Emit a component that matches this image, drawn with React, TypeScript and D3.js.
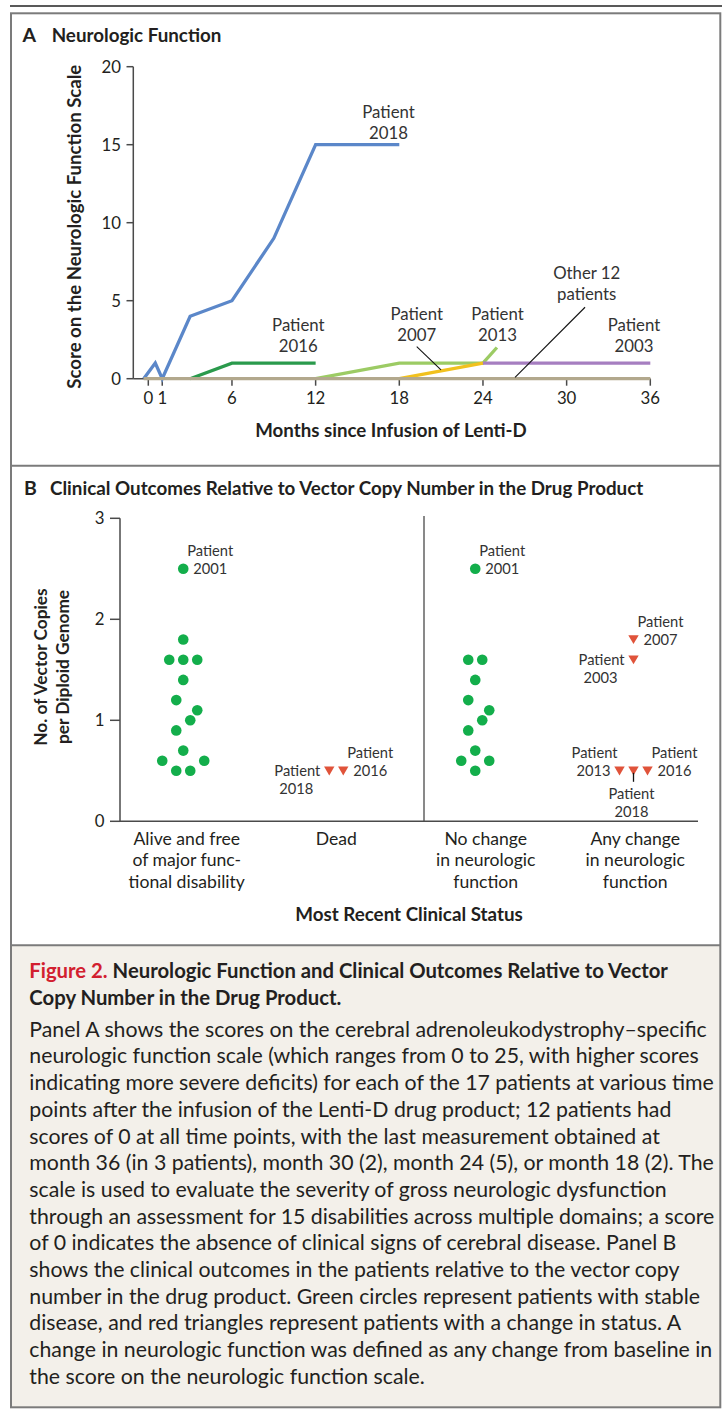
import React from 'react';
import * as d3 from 'd3';

// ---- Panel A data: neurologic function score by month ----
const MONTHS_2018 = [-0.33, 0.5, 1, 3, 6, 9, 12, 18];
const SCORE_2018 = [0, 1, 0, 4, 5, 9, 15, 15];
const MONTHS_2016 = [3, 6, 12];
const SCORE_2016 = [0, 1, 1];
const MONTHS_2013 = [12, 18, 24, 25];
const SCORE_2013 = [0, 1, 1, 2];
const MONTHS_2007 = [18, 24];
const SCORE_2007 = [0, 1];
const MONTHS_2003 = [24, 36];
const SCORE_2003 = [1, 1];
const MONTHS_OTHERS = [-0.33, 36];
const SCORE_OTHERS = [0, 0];

const X_TICKS_A = [0, 1, 6, 12, 18, 24, 30, 36];
const Y_TICKS_A = [0, 5, 10, 15, 20];

// ---- Panel B data: vector copy number per status ----
const CATEGORIES = ['alive', 'dead', 'nochange', 'change'];
const CATEGORY_LABELS = [
  ['Alive and free', 'of major func-', 'tional disability'],
  ['Dead'],
  ['No change', 'in neurologic', 'function'],
  ['Any change', 'in neurologic', 'function'],
];
const ALIVE_VCN = [2.5, 1.8, 1.6, 1.6, 1.6, 1.4, 1.2, 1.1, 1.0, 0.9, 0.7, 0.6, 0.6, 0.5, 0.5];
const ALIVE_LANE = [-0.5, -0.5, -2.5, -0.5, 1.5, -0.5, -1.5, 1.5, 0.5, -1.5, -0.5, -3.5, 2.5, -1.5, 0.5];
const NOCHANGE_VCN = [2.5, 1.6, 1.6, 1.4, 1.2, 1.1, 1.0, 0.9, 0.7, 0.6, 0.6, 0.5];
const NOCHANGE_LANE = [-1.5, -2.5, -0.5, -1.5, -2.5, 0.5, -0.5, -2.5, -1.5, -3.5, 0.5, -1.5];
const DEAD_PATIENTS = ['2018', '2016'];
const DEAD_VCN = [0.5, 0.5];
const DEAD_LANE = [-1, 1];
const CHANGE_PATIENTS = ['2007', '2003', '2013', '2018', '2016'];
const CHANGE_VCN = [1.8, 1.6, 0.5, 0.5, 0.5];
const CHANGE_LANE = [-0.25, -0.25, -2.25, -0.25, 1.75];
const Y_TICKS_B = [0, 1, 2, 3];

const CAPTION_LINES = [
  'Panel A shows the scores on the cerebral adrenoleukodystrophy\u2013specific',
  'neurologic function scale (which ranges from 0 to 25, with higher scores',
  'indicating more severe deficits) for each of the 17 patients at various time',
  'points after the infusion of the Lenti-D drug product; 12 patients had',
  'scores of 0 at all time points, with the last measurement obtained at',
  'month 36 (in 3 patients), month 30 (2), month 24 (5), or month 18 (2). The',
  'scale is used to evaluate the severity of gross neurologic dysfunction',
  'through an assessment for 15 disabilities across multiple domains; a score',
  'of 0 indicates the absence of clinical signs of cerebral disease. Panel B',
  'shows the clinical outcomes in the patients relative to the vector copy',
  'number in the drug product. Green circles represent patients with stable',
  'disease, and red triangles represent patients with a change in status. A',
  'change in neurologic function was defined as any change from baseline in',
  'the score on the neurologic function scale.',
];

const FONT = 'Lato, "Noto Sans", sans-serif';
const INK = '#231f20';
const AXIS = '#4a4a4a';
const GREEN = '#13ae4b';
const RED = '#e0533a';

const zip = (xs: number[], ys: number[]) => xs.map((x, i) => [x, ys[i]] as [number, number]);

const SERIES = [
  { id: '2018', pts: zip(MONTHS_2018, SCORE_2018), color: '#5b87c9' },
  { id: '2016', pts: zip(MONTHS_2016, SCORE_2016), color: '#2a9a4c' },
  { id: '2013', pts: zip(MONTHS_2013, SCORE_2013), color: '#9ccb64' },
  { id: '2007', pts: zip(MONTHS_2007, SCORE_2007), color: '#f1c11e' },
  { id: '2003', pts: zip(MONTHS_2003, SCORE_2003), color: '#a67ec0' },
  { id: 'others', pts: zip(MONTHS_OTHERS, SCORE_OTHERS), color: '#b2a88d' },
];

// label anchors in data units (month, score)
const A_LABELS = [
  { m: 17.23, s: 16.71, lines: ['Patient', '2018'] },
  { m: 10.76, s: 3.08, lines: ['Patient', '2016'] },
  { m: 19.25, s: 3.76, lines: ['Patient', '2007'] },
  { m: 25.04, s: 3.76, lines: ['Patient', '2013'] },
  { m: 34.83, s: 3.06, lines: ['Patient', '2003'] },
  { m: 31.44, s: 6.37, lines: ['Other 12', 'patients'] },
];
const A_LEADERS = [
  [[19.25, 2.05], [20.99, 0.56]],
  [[31.32, 4.58], [26.3, 0.09]],
];

const TRI = 'M-5.2,-4.2L5.2,-4.2L0,4.6Z';

export default function App() {
  const xA = d3.scaleLinear().domain([0, 36]).range([148.3, 650.3]);
  const yA = d3.scaleLinear().domain([0, 20]).range([378.7, 66.7]);
  const line = d3.line<[number, number]>().x((d) => xA(d[0])).y((d) => yA(d[1]));

  const xB = d3.scaleBand<string>().domain(CATEGORIES).range([112, 710]);
  const cx = (c: string) => (xB(c) as number) + xB.bandwidth() / 2;
  const yB = d3.scaleLinear().domain([0, 3]).range([821.3, 518.3]);
  const lane = d3.scaleLinear().domain([-1, 1]).range([-7, 7]);

  const dots = [
    ...ALIVE_VCN.map((v, i) => ({ x: cx('alive') + lane(ALIVE_LANE[i]), y: yB(v) })),
    ...NOCHANGE_VCN.map((v, i) => ({ x: cx('nochange') + lane(NOCHANGE_LANE[i]), y: yB(v) })),
  ];
  const tris = [
    ...DEAD_VCN.map((v, i) => ({ id: DEAD_PATIENTS[i], cat: 'dead', x: cx('dead') + lane(DEAD_LANE[i]), y: yB(v) })),
    ...CHANGE_VCN.map((v, i) => ({ id: CHANGE_PATIENTS[i], cat: 'change', x: cx('change') + lane(CHANGE_LANE[i]), y: yB(v) })),
  ];
  const find = (cat: string, id: string) => tris.find((t) => t.cat === cat && t.id === id)!;

  // Patient 2001 dots (top of each green column)
  const p2001 = [
    { x: cx('alive') + lane(ALIVE_LANE[0]), y: yB(ALIVE_VCN[0]) },
    { x: cx('nochange') + lane(NOCHANGE_LANE[0]), y: yB(NOCHANGE_VCN[0]) },
  ];

  const bLabels: { x: number; y: number; side: string; id: string }[] = [
    ...p2001.map((p) => ({ ...p, side: 'right', id: '2001' })),
    { ...find('dead', '2016'), side: 'right' },
    { ...find('dead', '2018'), side: 'left' },
    { ...find('change', '2007'), side: 'right' },
    { ...find('change', '2003'), side: 'left' },
    { ...find('change', '2013'), side: 'leftup' },
    { ...find('change', '2016'), side: 'right' },
    { ...find('change', '2018'), side: 'below' },
  ];

  const labelB = (l: { x: number; y: number; side: string; id: string }, k: number) => {
    const fs = 14.7;
    if (l.side === 'right')
      return (
        <g key={k} fontSize={fs}>
          <text x={l.x + 4} y={l.y - 13}>Patient</text>
          <text x={l.x + 10} y={l.y + 5}>{l.id}</text>
        </g>
      );
    if (l.side === 'leftup')
      return (
        <g key={k} fontSize={fs} textAnchor="end">
          <text x={l.x - 2} y={l.y - 13}>Patient</text>
          <text x={l.x - 9} y={l.y + 5}>{l.id}</text>
        </g>
      );
    if (l.side === 'left')
      return (
        <g key={k} fontSize={fs} textAnchor="end">
          <text x={l.x - 9} y={l.y + 5}>Patient</text>
          <text x={l.x - 16} y={l.y + 23}>{l.id}</text>
        </g>
      );
    return (
      <g key={k} fontSize={fs} textAnchor="middle">
        <line x1={l.x} x2={l.x} y1={l.y + 2} y2={l.y + 11} stroke="#111" strokeWidth={1.3} />
        <text x={l.x - 2} y={l.y + 28}>Patient</text>
        <text x={l.x - 2} y={l.y + 46}>{l.id}</text>
      </g>
    );
  };

  return (
    <svg
      width={723}
      height={1409}
      viewBox="0 0 723 1409"
      style={{ position: 'absolute', left: 0, top: 0, display: 'block' }}
      fontFamily={FONT}
      fill={INK}
    >
      <rect x={0} y={0} width={723} height={1409} fill="#fff" />
      {/* frame */}
      <line x1={10} x2={722} y1={6} y2={6} stroke="#222" strokeWidth={1.6} />
      <rect x={11} y={946} width={709} height={461} fill="#f3f0ea" />
      <rect x={11} y={13.3} width={709.3} height={1394} fill="none" stroke="#7b7b7b" strokeWidth={2} />
      <line x1={11} x2={720} y1={465.7} y2={465.7} stroke="#7b7b7b" strokeWidth={2} />
      <line x1={11} x2={720} y1={945.3} y2={945.3} stroke="#7b7b7b" strokeWidth={2} />

      {/* ---------- Panel A ---------- */}
      <text x={22.5} y={42.3} fontSize={19.5} fontWeight={700}>A</text>
      <text x={51.7} y={42.3} fontSize={18.8} fontWeight={700}>Neurologic Function</text>

      <line x1={133.3} x2={133.3} y1={yA(20)} y2={yA(0)} stroke={AXIS} strokeWidth={1.5} />
      <line x1={133.3} x2={xA(36)} y1={yA(0)} y2={yA(0)} stroke={AXIS} strokeWidth={1.5} />
      {Y_TICKS_A.map((t) => (
        <g key={t}>
          <line x1={126.5} x2={133.3} y1={yA(t)} y2={yA(t)} stroke={AXIS} strokeWidth={1.5} />
          <text x={121} y={yA(t) + 6} fontSize={16.8} textAnchor="end">{t}</text>
        </g>
      ))}
      {X_TICKS_A.map((t) => (
        <g key={t}>
          <line x1={xA(t)} x2={xA(t)} y1={yA(0)} y2={yA(0) + 7} stroke={AXIS} strokeWidth={1.5} />
          <text x={xA(t)} y={404} fontSize={16.8} textAnchor="middle">{t}</text>
        </g>
      ))}
      <text x={391} y={436.7} fontSize={18.7} fontWeight={700} textAnchor="middle">
        Months since Infusion of Lenti-D
      </text>
      <text
        transform={`translate(81,226.7) rotate(-90)`}
        fontSize={18.6}
        fontWeight={700}
        textAnchor="middle"
      >
        Score on the Neurologic Function Scale
      </text>

      {SERIES.map((s) => (
        <path key={s.id} d={line(s.pts) ?? ''} fill="none" stroke={s.color} strokeWidth={3.3} strokeLinejoin="miter" />
      ))}

      {A_LEADERS.map((l, i) => (
        <line key={i} x1={xA(l[0][0])} y1={yA(l[0][1])} x2={xA(l[1][0])} y2={yA(l[1][1])} stroke="#111" strokeWidth={1.1} />
      ))}
      {A_LABELS.map((l, i) => (
        <g key={i} fontSize={16.8} textAnchor="middle" fill="#333">
          <text x={xA(l.m)} y={yA(l.s)}>{l.lines[0]}</text>
          <text x={xA(l.m)} y={yA(l.s) + 21}>{l.lines[1]}</text>
        </g>
      ))}

      {/* ---------- Panel B ---------- */}
      <text x={24} y={495} fontSize={19.5} fontWeight={700}>B</text>
      <text x={50} y={495} fontSize={18.8} fontWeight={700}>
        Clinical Outcomes Relative to Vector Copy Number in the Drug Product
      </text>

      <line x1={120} x2={120} y1={yB(3)} y2={yB(0)} stroke={AXIS} strokeWidth={1.5} />
      <line x1={120} x2={698} y1={yB(0)} y2={yB(0)} stroke={AXIS} strokeWidth={1.5} />
      <line x1={424} x2={424} y1={516} y2={yB(0)} stroke={AXIS} strokeWidth={1.3} />
      {Y_TICKS_B.map((t) => (
        <g key={t}>
          <line x1={110} x2={120} y1={yB(t)} y2={yB(t)} stroke={AXIS} strokeWidth={1.5} />
          <text x={104.5} y={yB(t) + 6} fontSize={16.8} textAnchor="end">{t}</text>
        </g>
      ))}
      <g transform="translate(0,667) rotate(-90)" fontSize={17.3} fontWeight={700} textAnchor="middle">
        <text x={0} y={46.5}>No. of Vector Copies</text>
        <text x={0} y={68.5}>per Diploid Genome</text>
      </g>
      {CATEGORIES.map((c, i) => (
        <g key={c} fontSize={17.6} textAnchor="middle">
          {CATEGORY_LABELS[i].map((s, j) => (
            <text key={j} x={cx(c)} y={845 + j * 21.3}>{s}</text>
          ))}
        </g>
      ))}
      <text x={409} y={920.7} fontSize={18.8} fontWeight={700} textAnchor="middle">
        Most Recent Clinical Status
      </text>

      {dots.map((d, i) => (
        <circle key={i} cx={d.x} cy={d.y} r={5.3} fill={GREEN} />
      ))}
      {tris.map((t, i) => (
        <path key={i} d={TRI} transform={`translate(${t.x},${t.y})`} fill={RED} />
      ))}
      <g fill="#333">{bLabels.map(labelB)}</g>

      {/* ---------- Caption ---------- */}
      <text x={29.3} y={978.3} fontSize={20.3} fontWeight={700}>
        <tspan fill="#d2202f">Figure 2.</tspan>
        <tspan> Neurologic Function and Clinical Outcomes Relative to Vector</tspan>
      </text>
      <text x={29.3} y={1005} fontSize={20.3} fontWeight={700}>
        Copy Number in the Drug Product.
      </text>
      {CAPTION_LINES.map((s, i) => (
        <text key={i} x={29.3} y={1036.7 + i * 26.7} fontSize={21.3}>{s}</text>
      ))}
    </svg>
  );
}
